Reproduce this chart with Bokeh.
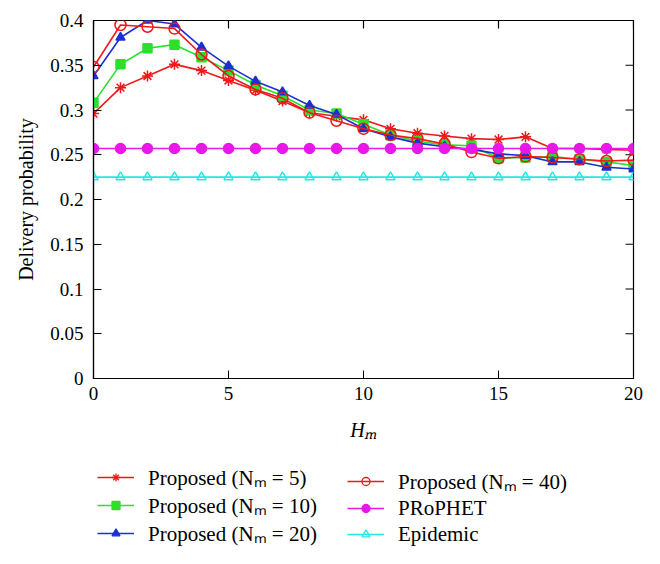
import math
from bokeh.plotting import figure
from bokeh.models import Legend, LegendItem, Range1d, FixedTicker
from bokeh.layouts import column
from bokeh.embed import file_html
from bokeh.resources import INLINE

h_m = [0, 1, 2, 3, 4, 5, 6, 7, 8, 9, 10, 11, 12, 13, 14, 15, 16, 17, 18, 19, 20]
nm5 = [0.296, 0.325, 0.338, 0.351, 0.344, 0.333, 0.322, 0.310, 0.297, 0.293, 0.289,
       0.279, 0.274, 0.271, 0.268, 0.267, 0.270, 0.257, 0.257, 0.256, 0.255]
nm10 = [0.308, 0.351, 0.369, 0.373, 0.359, 0.344, 0.328, 0.316, 0.300, 0.296, 0.284,
        0.272, 0.265, 0.261, 0.260, 0.246, 0.247, 0.248, 0.245, 0.242, 0.238]
nm20 = [0.338, 0.381, 0.400, 0.396, 0.370, 0.349, 0.332, 0.320, 0.305, 0.295, 0.279,
        0.270, 0.263, 0.259, 0.256, 0.251, 0.249, 0.242, 0.242, 0.236, 0.234]
nm40 = [0.348, 0.395, 0.393, 0.391, 0.362, 0.338, 0.323, 0.313, 0.297, 0.288, 0.279,
        0.272, 0.268, 0.262, 0.253, 0.246, 0.248, 0.247, 0.245, 0.243, 0.244]
prophet = [0.257, 0.257, 0.257, 0.257, 0.257, 0.257, 0.257, 0.257, 0.257, 0.257, 0.257,
           0.257, 0.257, 0.257, 0.257, 0.257, 0.257, 0.257, 0.257, 0.257, 0.257]
epidemic = [0.225, 0.225, 0.225, 0.225, 0.225, 0.225, 0.225, 0.225, 0.225, 0.225, 0.225,
            0.225, 0.225, 0.225, 0.225, 0.225, 0.225, 0.225, 0.225, 0.225, 0.225]

labels = ["Proposed (N\u2098 = 5)", "Proposed (N\u2098 = 10)", "Proposed (N\u2098 = 20)",
          "Proposed (N\u2098 = 40)", "PRoPHET", "Epidemic"]
x_ticks = [0, 5, 10, 15, 20]
y_ticks = [0, 0.05, 0.1, 0.15, 0.2, 0.25, 0.3, 0.35, 0.4]
X_MIN, X_MAX = 0, 20
Y_MIN, Y_MAX = 0, 0.4

FONT = "serif"

p = figure(frame_width=540, frame_height=358, output_backend="svg", toolbar_location=None,
           x_range=Range1d(X_MIN, X_MAX), y_range=Range1d(Y_MIN, Y_MAX),
           min_border_left=93, min_border_top=20, min_border_right=27, min_border_bottom=80)
p.grid.visible = False
p.outline_line_color = "black"
p.outline_line_width = 1.2
p.background_fill_color = "white"
p.border_fill_color = "white"

for ax in [p.xaxis[0], p.yaxis[0]]:
    ax.major_tick_in = 8
    ax.major_tick_out = 0
    ax.minor_tick_in = 0
    ax.minor_tick_out = 0
    ax.axis_line_color = "black"
    ax.axis_line_width = 1.2
    ax.major_label_text_font = FONT
    ax.major_label_text_font_size = "19px"
    ax.major_label_text_color = "black"
    ax.axis_label_text_font = FONT
    ax.axis_label_text_font_size = "20px"
    ax.axis_label_text_color = "black"

p.xaxis[0].ticker = FixedTicker(ticks=x_ticks)
p.yaxis[0].ticker = FixedTicker(ticks=y_ticks)
p.yaxis[0].major_label_overrides = {0: "0", 0.05: "0.05", 0.1: "0.1", 0.15: "0.15", 0.2: "0.2",
                                    0.25: "0.25", 0.3: "0.3", 0.35: "0.35", 0.4: "0.4"}
p.xaxis[0].axis_label = "H\u2098"
p.xaxis[0].axis_label_text_font_style = "italic"
p.xaxis[0].axis_label_standoff = 16
p.xaxis[0].major_label_standoff = 8
p.yaxis[0].axis_label = "Delivery probability"
p.yaxis[0].axis_label_text_font_style = "normal"
p.yaxis[0].axis_label_standoff = 10
p.yaxis[0].major_label_standoff = 10

# mirrored inward ticks on the top and right frame edges (half of each dash is clipped)
p.scatter(x_ticks, [Y_MAX] * len(x_ticks), marker="dash", size=16, angle=math.pi / 2,
          line_color="black", line_width=1.2)
p.scatter([X_MAX] * len(y_ticks), y_ticks, marker="dash", size=16,
          line_color="black", line_width=1.2)

RED = "#f01818"
GREEN = "#2be02b"
BLUE = "#1c30d0"
MAGENTA = "#e818e8"
CYAN = "#22e8e8"

specs = [
    (nm5, RED, "asterisk", 11, None),
    (nm10, GREEN, "square", 9, GREEN),
    (nm20, BLUE, "triangle", 9, BLUE),
    (nm40, RED, "circle", 11, None),
    (prophet, MAGENTA, "circle", 10, MAGENTA),
    (epidemic, CYAN, "triangle", 9, None),
]
for (ys, col, mk, sz, fc) in specs:
    p.line(h_m, ys, line_color=col, line_width=1.6)
    p.scatter(h_m, ys, marker=mk, size=sz, line_color=col, line_width=1.5,
              fill_color=fc if fc else "white", fill_alpha=1.0 if fc else 0.0)

# legend panel below the plot: its own figure whose data lie outside its view
lg = figure(width=660, height=90, output_backend="svg", toolbar_location=None,
            x_range=Range1d(X_MIN, X_MAX), y_range=Range1d(10, 11),
            min_border_left=0, min_border_right=0, min_border_top=0, min_border_bottom=0)
lg.axis.visible = False
lg.grid.visible = False
lg.outline_line_color = None

items = []
for (ys, col, mk, sz, fc), lab in zip(specs, labels):
    ln = lg.line(h_m, ys, line_color=col, line_width=1.6)
    sc = lg.scatter(h_m, ys, marker=mk, size=6, line_color=col, line_width=1.3,
                    fill_color=fc if fc else "white", fill_alpha=1.0 if fc else 0.0)
    items.append(LegendItem(label=lab, renderers=[ln, sc]))

leg_kw = dict(label_text_font=FONT, label_text_font_size="21px", label_text_color="black",
              glyph_width=37, glyph_height=20, label_standoff=14, spacing=0,
              border_line_color=None, background_fill_alpha=0, padding=0, margin=0,
              label_height=26)
leg1 = Legend(items=items[:3], location=(4, 1), **leg_kw)
leg2 = Legend(items=items[3:], location=(254, 1), **leg_kw)
lg.add_layout(leg1, "center")
lg.add_layout(leg2, "center")

layout = column(p, lg, spacing=0)
open("out.html", "w").write(file_html(layout, INLINE))
